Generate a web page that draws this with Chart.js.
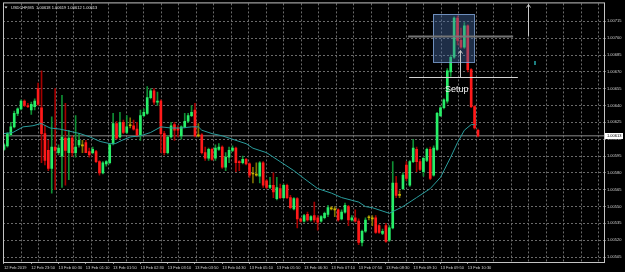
<!DOCTYPE html>
<html>
<head>
<meta charset="utf-8">
<script src="https://cdn.jsdelivr.net/npm/chart.js@4.4.1/dist/chart.umd.min.js"></script>
<style>
  html, body { margin: 0; padding: 0; background: #000; overflow: hidden; }
  #wrap { width: 625px; height: 272px; position: relative; }
</style>
</head>
<body>
<div id="wrap"><canvas id="chart"></canvas></div>
<script>
// USDCHF M5 candles, bar 0 = 12 Feb 23:10, one bar every 5 minutes
const symbolTitle = "USDCHF,M5";

const opens = [
  1.00601,1.00604,1.00614,1.00621,1.00633,1.00637,1.00644,1.00640,1.00636,1.00639,
  1.00655,1.00638,1.00615,1.00600,1.00584,1.00603,1.00598,1.00595,1.00611,1.00598,
  1.00611,1.00598,1.00605,1.00604,1.00607,1.00599,1.00598,1.00599,1.00590,1.00580,
  1.00588,1.00589,1.00606,1.00624,1.00612,1.00625,1.00616,1.00622,1.00622,1.00619,
  1.00614,1.00631,1.00633,1.00647,1.00653,1.00643,1.00644,1.00615,1.00598,1.00612,
  1.00623,1.00620,1.00613,1.00621,1.00626,1.00631,1.00636,1.00613,1.00614,1.00598,
  1.00593,1.00601,1.00593,1.00601,1.00603,1.00585,1.00594,1.00600,1.00602,1.00590,
  1.00589,1.00592,1.00588,1.00579,1.00578,1.00577,1.00589,1.00573,1.00567,1.00569,
  1.00557,1.00566,1.00558,1.00569,1.00558,1.00548,1.00557,1.00539,1.00537,1.00543,
  1.00538,1.00542,1.00540,1.00537,1.00540,1.00543,1.00548,1.00547,1.00547,1.00539,
  1.00545,1.00550,1.00538,1.00540,1.00537,1.00518,1.00528,1.00540,1.00539,1.00540,
  1.00533,1.00526,1.00533,1.00520,1.00531,1.00571,1.00560,1.00566,1.00587,1.00569,
  1.00590,1.00601,1.00590,1.00581,1.00591,1.00601,1.00578,1.00601,1.00631,1.00638,
  1.00644,1.00670,1.00683,1.00718,1.00698,1.00692,1.00711,1.00672,1.00639,1.00618
];
const highs = [
  1.00606,1.00616,1.00625,1.00635,1.00638,1.00645,1.00645,1.00642,1.00643,1.00646,
  1.00660,1.00671,1.00622,1.00609,1.00630,1.00655,1.00605,1.00649,1.00642,1.00618,
  1.00613,1.00631,1.00615,1.00609,1.00609,1.00602,1.00603,1.00600,1.00591,1.00590,
  1.00591,1.00606,1.00633,1.00626,1.00634,1.00627,1.00631,1.00629,1.00627,1.00625,
  1.00636,1.00637,1.00657,1.00655,1.00655,1.00652,1.00645,1.00617,1.00613,1.00625,
  1.00625,1.00622,1.00622,1.00633,1.00633,1.00640,1.00642,1.00624,1.00615,1.00603,
  1.00602,1.00602,1.00605,1.00606,1.00604,1.00598,1.00603,1.00604,1.00603,1.00591,
  1.00595,1.00593,1.00589,1.00585,1.00589,1.00590,1.00590,1.00574,1.00576,1.00580,
  1.00576,1.00570,1.00570,1.00570,1.00560,1.00558,1.00558,1.00540,1.00543,1.00545,
  1.00542,1.00554,1.00542,1.00542,1.00545,1.00551,1.00550,1.00550,1.00548,1.00547,
  1.00553,1.00551,1.00542,1.00547,1.00539,1.00529,1.00540,1.00542,1.00542,1.00542,
  1.00534,1.00530,1.00535,1.00533,1.00590,1.00577,1.00564,1.00580,1.00590,1.00591,
  1.00610,1.00603,1.00592,1.00594,1.00602,1.00603,1.00604,1.00634,1.00639,1.00646,
  1.00673,1.00685,1.00719,1.00720,1.00709,1.00714,1.00712,1.00673,1.00640,1.00619
];
const lows = [
  1.00600,1.00603,1.00613,1.00620,1.00631,1.00636,1.00639,1.00638,1.00632,1.00636,
  1.00640,1.00589,1.00587,1.00582,1.00562,1.00565,1.00596,1.00567,1.00569,1.00574,
  1.00595,1.00594,1.00603,1.00598,1.00598,1.00594,1.00597,1.00589,1.00578,1.00579,
  1.00586,1.00588,1.00605,1.00610,1.00611,1.00615,1.00615,1.00620,1.00618,1.00612,
  1.00609,1.00630,1.00632,1.00646,1.00641,1.00640,1.00598,1.00596,1.00597,1.00611,
  1.00609,1.00612,1.00610,1.00620,1.00625,1.00630,1.00612,1.00612,1.00597,1.00591,
  1.00591,1.00591,1.00591,1.00600,1.00584,1.00582,1.00589,1.00599,1.00581,1.00582,
  1.00588,1.00587,1.00576,1.00571,1.00577,1.00571,1.00567,1.00566,1.00566,1.00558,
  1.00556,1.00557,1.00557,1.00557,1.00548,1.00547,1.00531,1.00536,1.00536,1.00537,
  1.00537,1.00536,1.00529,1.00536,1.00539,1.00541,1.00547,1.00541,1.00537,1.00538,
  1.00544,1.00533,1.00537,1.00536,1.00516,1.00515,1.00527,1.00538,1.00533,1.00526,
  1.00526,1.00525,1.00518,1.00519,1.00530,1.00558,1.00558,1.00565,1.00573,1.00568,
  1.00589,1.00581,1.00582,1.00577,1.00590,1.00574,1.00577,1.00600,1.00630,1.00637,
  1.00642,1.00666,1.00682,1.00694,1.00691,1.00691,1.00670,1.00638,1.00619,1.00612
];
const closes = [
  1.00605,1.00615,1.00621,1.00633,1.00637,1.00644,1.00640,1.00639,1.00641,1.00644,
  1.00641,1.00615,1.00591,1.00584,1.00603,1.00600,1.00602,1.00612,1.00600,1.00611,
  1.00598,1.00603,1.00609,1.00604,1.00598,1.00596,1.00601,1.00590,1.00580,1.00589,
  1.00590,1.00605,1.00624,1.00611,1.00625,1.00616,1.00621,1.00622,1.00619,1.00613,
  1.00631,1.00634,1.00647,1.00653,1.00643,1.00644,1.00615,1.00598,1.00612,1.00622,
  1.00618,1.00618,1.00621,1.00626,1.00631,1.00634,1.00613,1.00613,1.00598,1.00593,
  1.00601,1.00592,1.00602,1.00603,1.00585,1.00594,1.00600,1.00602,1.00589,1.00589,
  1.00592,1.00588,1.00578,1.00579,1.00578,1.00589,1.00569,1.00567,1.00569,1.00563,
  1.00567,1.00558,1.00569,1.00558,1.00549,1.00557,1.00539,1.00537,1.00542,1.00538,
  1.00541,1.00538,1.00536,1.00541,1.00544,1.00549,1.00548,1.00547,1.00538,1.00545,
  1.00551,1.00538,1.00540,1.00537,1.00518,1.00528,1.00538,1.00540,1.00539,1.00527,
  1.00527,1.00528,1.00519,1.00531,1.00571,1.00560,1.00560,1.00578,1.00575,1.00590,
  1.00602,1.00590,1.00583,1.00593,1.00601,1.00575,1.00602,1.00633,1.00638,1.00645,
  1.00671,1.00683,1.00718,1.00698,1.00692,1.00711,1.00672,1.00639,1.00620,1.00613
];

// moving average, read at these bar positions
const maBars = [0,2.6,5.6,8.5,10.9,13.5,16.4,19.4,22.3,25.2,28.2,31.1,32.6,34.6,37,40,43,46,49,52,
  55,57,58,61,64,67,71,73,77,81,85,88,92,96,99,104,106,108,113,117,121,125,128,131,133,135,137,138];
const maPrices = [1.00615,1.00616,1.00621,1.00622,1.00624,1.00620,1.00619,1.00617,1.00615,1.00612,
  1.00608,1.00606,1.00606,1.00609,1.00612,1.00613,1.00616,1.00621,1.00620,1.00620,
  1.00621,1.00621,1.00618,1.00615,1.00613,1.00610,1.00606,1.00602,1.00598,1.00590,
  1.00582,1.00575,1.00566,1.00562,1.00558,1.00554,1.00550,1.00549,1.00544,1.00550,
  1.00558,1.00566,1.00576,1.00594,1.00607,1.00618,1.00623,1.00623];

// time axis labels (every 8 bars)
const tickBars = [0,8,16,24,32,40,48,56,64,72,80,88,96,104,112,120,128,136];
const tickLabels = ["12 Feb 2019","12 Feb 23:50","13 Feb 00:30","13 Feb 01:10","13 Feb 01:50",
  "13 Feb 02:30","13 Feb 03:10","13 Feb 03:50","13 Feb 04:30","13 Feb 05:10","13 Feb 05:50",
  "13 Feb 06:30","13 Feb 07:10","13 Feb 07:50","13 Feb 08:30","13 Feb 09:10","13 Feb 09:50","13 Feb 10:30"];
const priceTicks = [1.00505,1.00520,1.00535,1.00550,1.00565,1.00580,1.00595,1.00610,
  1.00625,1.00640,1.00655,1.00670,1.00685,1.00700,1.00715];

// chart objects drawn by hand on the terminal
const boxBars = [125.8, 137.8];
const boxPrices = [1.00722, 1.00679];
const targetBars = [118.5, 149.3];
const targetPrice = 1.00702;
const entryBars = [118.8, 150.7];
const entryPrice = 1.00665;
const arrows = [
  { bar: 133.7, from: 1.00665, to: 1.00689 },
  { bar: 153.7, from: 1.00702, to: 1.00730 }
];
const markerPoint = { bar: 155.7, price: 1.00678 };
const setupLabel = { text: "Setup", bar: 132.8, price: 1.00654 };

const X_MIN = -0.293, X_MAX = 175.95;
const bid = closes[closes.length - 1];

const GREEN = "#27ee68", RED = "#ff1a1a", OLIVE = "#c9b300";
const GREEN_WICK = "#0f8f34", RED_WICK = "#a30000", OLIVE_WICK = "#7d7000";
const FONT = "'Liberation Sans', Arial, sans-serif";

function candleColor(i, up, down, flat) {
  if (closes[i] > opens[i]) return up;
  if (closes[i] < opens[i]) return down;
  return flat;
}

const overlay = {
  id: "overlay",
  afterDatasetsDraw(chart) {
    const { ctx, chartArea: a } = chart;
    const x = chart.scales.x, y = chart.scales.y;

    ctx.save();
    ctx.beginPath();
    ctx.rect(a.left, a.top, a.right - a.left, a.bottom - a.top);
    ctx.clip();

    // setup rectangle
    const bx1 = Math.round(x.getPixelForValue(boxBars[0]));
    const bx2 = Math.round(x.getPixelForValue(boxBars[1]));
    const by1 = Math.round(y.getPixelForValue(boxPrices[0]));
    const by2 = Math.round(y.getPixelForValue(boxPrices[1]));
    ctx.fillStyle = "rgba(72,110,170,0.42)";
    ctx.fillRect(bx1, by1, bx2 - bx1, by2 - by1);
    ctx.strokeStyle = "rgba(125,160,210,0.85)";
    ctx.lineWidth = 1;
    ctx.strokeRect(bx1 + 0.5, by1 + 0.5, bx2 - bx1, by2 - by1);

    // levels
    const hline = (bars, price, color, w) => {
      const py = Math.round(y.getPixelForValue(price)) + 0.5;
      ctx.strokeStyle = color;
      ctx.lineWidth = w;
      ctx.beginPath();
      ctx.moveTo(x.getPixelForValue(bars[0]), py);
      ctx.lineTo(x.getPixelForValue(bars[1]), py);
      ctx.stroke();
    };
    hline(targetBars, targetPrice, "rgba(120,120,120,0.95)", 2);
    hline(entryBars, entryPrice, "#d4d4d4", 1);

    // arrows
    ctx.strokeStyle = "#c8c8c8";
    ctx.lineWidth = 1;
    arrows.forEach(ar => {
      const px = Math.round(x.getPixelForValue(ar.bar)) + 0.5;
      const y0 = y.getPixelForValue(ar.from), y1 = y.getPixelForValue(ar.to);
      ctx.beginPath();
      ctx.moveTo(px, y0);
      ctx.lineTo(px, y1);
      ctx.moveTo(px - 2, y1 + 3);
      ctx.lineTo(px, y1);
      ctx.lineTo(px + 2, y1 + 3);
      ctx.stroke();
    });

    // small marker
    ctx.fillStyle = "#1d7f80";
    ctx.fillRect(Math.round(x.getPixelForValue(markerPoint.bar)) - 1,
      Math.round(y.getPixelForValue(markerPoint.price)) - 2, 2, 4);

    // label
    ctx.fillStyle = "#f2f2f2";
    ctx.font = "9px " + FONT;
    ctx.textAlign = "center";
    ctx.textBaseline = "middle";
    ctx.fillText(setupLabel.text, x.getPixelForValue(setupLabel.bar), y.getPixelForValue(setupLabel.price));
    ctx.restore();

    // frame
    ctx.save();
    ctx.strokeStyle = "#c4c4c4";
    ctx.lineWidth = 1;
    ctx.strokeRect(a.left + 0.5, a.top - 0.5, a.right - a.left, a.bottom - a.top + 1);

    // bid price tag
    const by = y.getPixelForValue(bid);
    ctx.fillStyle = "#ffffff";
    ctx.fillRect(a.right + 1, Math.round(by) - 3, 18, 6);
    ctx.fillStyle = "#000";
    ctx.font = "4px " + FONT;
    ctx.textAlign = "left";
    ctx.textBaseline = "middle";
    ctx.fillText(bid.toFixed(5), a.right + 3, by);

    // title
    ctx.fillStyle = "#e0e0e0";
    ctx.beginPath();
    ctx.moveTo(a.left + 1.5, a.top + 3);
    ctx.lineTo(a.left + 4.5, a.top + 3);
    ctx.lineTo(a.left + 3, a.top + 5);
    ctx.closePath();
    ctx.fill();
    const last = closes.length - 1;
    const title = symbolTitle + "  " + [opens[last], highs[last], lows[last], closes[last]]
      .map(v => v.toFixed(5)).join(" ");
    ctx.fillText(title, a.left + 8, a.top + 4);
    ctx.restore();
  }
};

const wicks = lows.map((l, i) => ({ x: i, y: [l, highs[i]] }));
const bodies = opens.map((o, i) => ({ x: i, y: [o, closes[i]] }));

new Chart(document.getElementById("chart").getContext("2d"), {
  type: "bar",
  data: {
    datasets: [
      {
        type: "line",
        data: [{ x: X_MIN, y: bid }, { x: X_MAX, y: bid }],
        borderColor: "#8a8a8a",
        borderWidth: 1,
        pointRadius: 0,
        xAxisID: "x",
        order: 10
      },
      {
        data: wicks,
        backgroundColor: wicks.map((_, i) => candleColor(i, GREEN_WICK, RED_WICK, OLIVE_WICK)),
        barThickness: 1,
        grouped: false,
        xAxisID: "x",
        order: 5
      },
      {
        data: bodies,
        backgroundColor: bodies.map((_, i) => candleColor(i, GREEN, RED, OLIVE)),
        barThickness: 2,
        minBarLength: 1,
        grouped: false,
        xAxisID: "x",
        order: 4
      },
      {
        type: "line",
        data: maBars.map((b, i) => ({ x: b, y: maPrices[i] })),
        borderColor: "#2a9c9c",
        borderWidth: 1,
        pointRadius: 0,
        tension: 0,
        xAxisID: "x",
        order: 1
      }
    ]
  },
  options: {
    responsive: true,
    maintainAspectRatio: false,
    animation: false,
    devicePixelRatio: 1,
    layout: { padding: { left: 3, top: 3, right: 0, bottom: 0 } },
    plugins: { legend: { display: false }, tooltip: { enabled: false } },
    scales: {
      x: {
        type: "linear",
        position: "bottom",
        min: X_MIN,
        max: X_MAX,
        offset: false,
        afterBuildTicks: s => { s.ticks = tickBars.map(v => ({ value: v })); },
        afterFit: s => { s.height = 10; },
        ticks: {
          autoSkip: false,
          maxRotation: 0,
          align: "start",
          padding: 1,
          color: "#d0d0d0",
          font: { family: FONT, size: 4 },
          callback: (v, idx) => tickLabels[idx]
        },
        grid: { offset: false, drawOnChartArea: false, drawTicks: true, tickLength: 2, color: "#9a9a9a" },
        border: { display: false }
      },
      xg: {
        type: "linear",
        position: "bottom",
        min: -0.0286,
        max: 34.314,
        offset: false,
        afterBuildTicks: s => {
          const t = [];
          for (let k = 1; k <= 34; k++) t.push({ value: k });
          s.ticks = t;
        },
        afterFit: s => { s.height = 0; },
        ticks: { display: false },
        grid: { offset: false, drawTicks: false, color: "#6a6a6a" },
        border: { display: false, dash: [2, 2] }
      },
      y: {
        type: "linear",
        position: "right",
        min: 1.005006,
        max: 1.00731,
        beginAtZero: false,
        afterBuildTicks: s => { s.ticks = priceTicks.map(v => ({ value: v })); },
        afterFit: s => { s.width = 21; },
        ticks: {
          color: "#d0d0d0",
          padding: 1,
          font: { family: FONT, size: 4 },
          callback: v => v.toFixed(5)
        },
        grid: { color: "#6a6a6a", drawTicks: true, tickLength: 2 },
        border: { display: false, dash: [2, 2] }
      }
    }
  },
  plugins: [overlay]
});
</script>
</body>
</html>
